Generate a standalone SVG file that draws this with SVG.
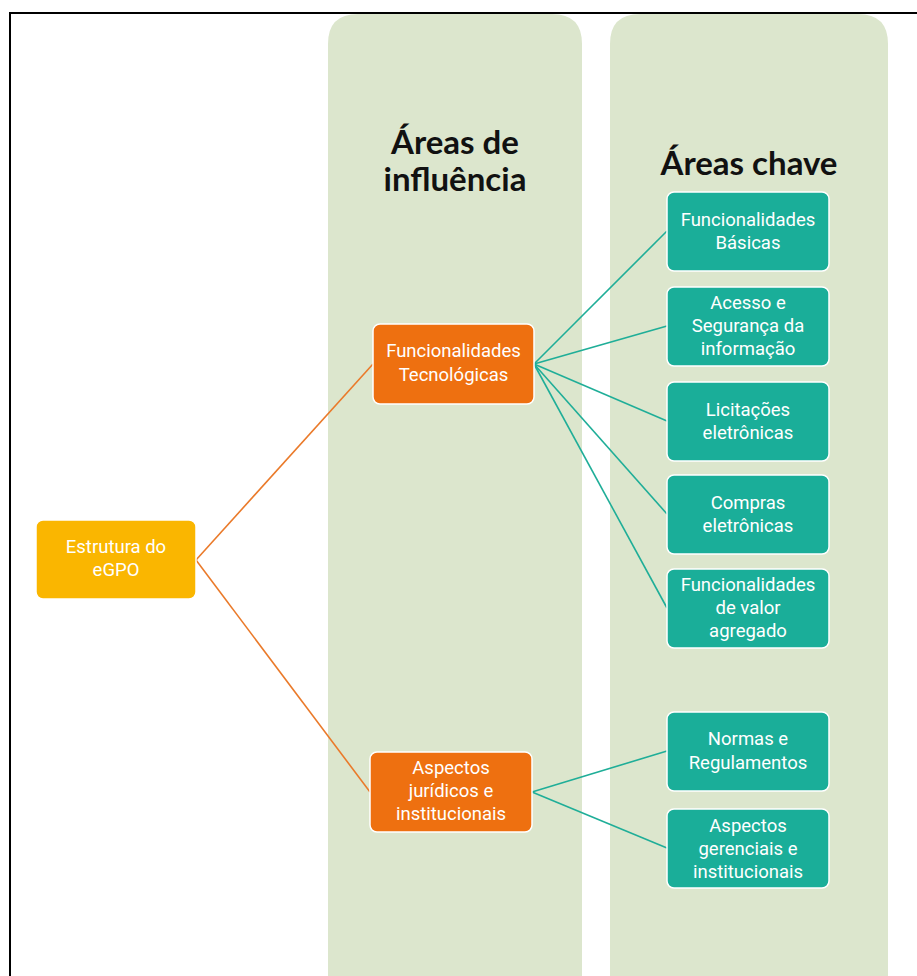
<svg xmlns="http://www.w3.org/2000/svg" width="917" height="976" viewBox="0 0 917 976">
<style>
.col{fill:#dce6cd;}
.hdr{font-family:Lato,"Liberation Sans",sans-serif;font-weight:bold;font-size:33px;fill:#111;text-anchor:middle;}
.box{stroke:#ffffff;stroke-width:1.5;}
.teal{fill:#1aae99;}
.orange{fill:#ee7010;}
.yellow{fill:#fab600;}
.t{font-family:Roboto,"Liberation Sans",sans-serif;font-size:18.5px;fill:#ffffff;text-anchor:middle;}
.co{stroke:#ea7a2a;stroke-width:1.6;fill:none;}
.ct{stroke:#1fae98;stroke-width:1.6;fill:none;}
</style>
<rect width="917" height="976" fill="#ffffff"/>
<g id="frame">
<path d="M10 976 V13 H917" fill="none" stroke="#000" stroke-width="2"/>
</g>
<g id="columns">
<path class="col" d="M328 976 V44 Q328 14 358 14 H552 Q582 14 582 44 V976 Z"/>
<path class="col" d="M610 976 V44 Q610 14 640 14 H858 Q888 14 888 44 V976 Z"/>
<text class="hdr" x="455" y="154">Áreas de</text>
<text class="hdr" x="455" y="191">influência</text>
<text class="hdr" x="749" y="175">Áreas chave</text>
</g>
<g id="connectors">
<line class="co" x1="196" y1="560" x2="373" y2="364"/>
<line class="co" x1="196" y1="560" x2="370" y2="792"/>
<line class="ct" x1="534" y1="364" x2="667" y2="231"/>
<line class="ct" x1="534" y1="364" x2="667" y2="326"/>
<line class="ct" x1="534" y1="364" x2="667" y2="421"/>
<line class="ct" x1="534" y1="364" x2="667" y2="514"/>
<line class="ct" x1="534" y1="364" x2="667" y2="608"/>
<line class="ct" x1="532" y1="792" x2="667" y2="751"/>
<line class="ct" x1="532" y1="792" x2="667" y2="848"/>
</g>
<g id="n-estrutura">
<rect class="box yellow" x="36" y="520" width="160" height="79" rx="7"/>
<text class="t" x="116" y="553">Estrutura do</text>
<text class="t" x="116" y="576">eGPO</text>
</g>
<g id="n-functec">
<rect class="box orange" x="373" y="324" width="161" height="80" rx="7"/>
<text class="t" x="453.5" y="357">Funcionalidades</text>
<text class="t" x="453.5" y="381">Tecnológicas</text>
</g>
<g id="n-aspjur">
<rect class="box orange" x="370" y="752" width="162" height="80" rx="7"/>
<text class="t" x="451" y="774">Aspectos</text>
<text class="t" x="451" y="797">jurídicos e</text>
<text class="t" x="451" y="820">institucionais</text>
</g>
<g id="n-basicas">
<rect class="box teal" x="667" y="192" width="162" height="79" rx="7"/>
<text class="t" x="748" y="226">Funcionalidades</text>
<text class="t" x="748" y="249">Básicas</text>
</g>
<g id="n-acesso">
<rect class="box teal" x="667" y="287" width="162" height="79" rx="7"/>
<text class="t" x="748" y="309">Acesso e</text>
<text class="t" x="748" y="332">Segurança da</text>
<text class="t" x="748" y="355">informação</text>
</g>
<g id="n-licitacoes">
<rect class="box teal" x="667" y="382" width="162" height="79" rx="7"/>
<text class="t" x="748" y="416">Licitações</text>
<text class="t" x="748" y="439">eletrônicas</text>
</g>
<g id="n-compras">
<rect class="box teal" x="667" y="475" width="162" height="79" rx="7"/>
<text class="t" x="748" y="509">Compras</text>
<text class="t" x="748" y="532">eletrônicas</text>
</g>
<g id="n-valor">
<rect class="box teal" x="667" y="569" width="162" height="79" rx="7"/>
<text class="t" x="748" y="591">Funcionalidades</text>
<text class="t" x="748" y="614">de valor</text>
<text class="t" x="748" y="637">agregado</text>
</g>
<g id="n-normas">
<rect class="box teal" x="667" y="712" width="162" height="79" rx="7"/>
<text class="t" x="748" y="745">Normas e</text>
<text class="t" x="748" y="769">Regulamentos</text>
</g>
<g id="n-gerenciais">
<rect class="box teal" x="667" y="809" width="162" height="79" rx="7"/>
<text class="t" x="748" y="832">Aspectos</text>
<text class="t" x="748" y="855">gerenciais e</text>
<text class="t" x="748" y="878">institucionais</text>
</g>
</svg>
